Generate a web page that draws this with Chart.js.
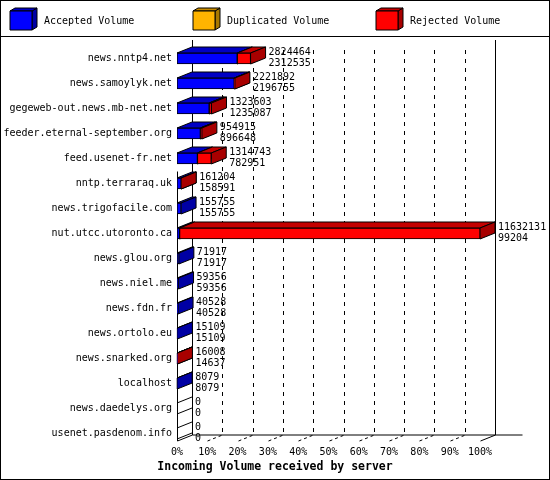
<!DOCTYPE html>
<html>
<head>
<meta charset="utf-8">
<script src="https://cdn.jsdelivr.net/npm/chart.js@4.4.1/dist/chart.umd.min.js"></script>
<style>
    html, body { margin: 0; padding: 0; background: #fff; }
    canvas { display: block; }
</style>
</head>
<body>
<canvas id="chart" width="550" height="480"></canvas>
<script>
// Data
const servers = [
    'news.nntp4.net', 'news.samoylyk.net', 'gegeweb-out.news.mb-net.net',
    'feeder.eternal-september.org', 'feed.usenet-fr.net', 'nntp.terraraq.uk',
    'news.trigofacile.com', 'nut.utcc.utoronto.ca', 'news.glou.org',
    'news.niel.me', 'news.fdn.fr', 'news.ortolo.eu', 'news.snarked.org',
    'localhost', 'news.daedelys.org', 'usenet.pasdenom.info'
];
const totalVolume = [2824464, 2221892, 1323603, 954915, 1314743, 161204, 155755, 11632131, 71917, 59356, 40528, 15109, 16008, 8079, 0, 0];
const acceptedVolume = [2312535, 2196755, 1235087, 896648, 782951, 158591, 155755, 99204, 71917, 59356, 40528, 15109, 14637, 8079, 0, 0];
const duplicatedVolume = [0, 0, 0, 0, 0, 0, 0, 0, 0, 0, 0, 0, 0, 0, 0, 0];
const rejectedVolume = [511929, 25137, 88516, 58267, 531792, 2613, 0, 11532927, 0, 0, 0, 0, 1371, 0, 0, 0];
const percentTicks = [0, 10, 20, 30, 40, 50, 60, 70, 80, 90, 100];
const percentLabels = ['0%', '10%', '20%', '30%', '40%', '50%', '60%', '70%', '80%', '90%', '100%'];

const maxVolume = Math.max(...totalVolume);
const FONT = 'DejaVu Sans Mono';
const DX = 15, DY = 6;

function poly(ctx, pts, fill) {
    ctx.beginPath();
    ctx.moveTo(pts[0][0], pts[0][1]);
    for (let i = 1; i < pts.length; i++) ctx.lineTo(pts[i][0], pts[i][1]);
    ctx.closePath();
    ctx.fillStyle = fill;
    ctx.fill();
    ctx.stroke();
}

function line(ctx, x1, y1, x2, y2) {
    ctx.beginPath();
    ctx.moveTo(x1, y1);
    ctx.lineTo(x2, y2);
    ctx.stroke();
}

// back plane, floor ticks and the 3D top/side faces of the bars
const depthPlugin = {
    id: 'depth',
    beforeDatasetsDraw(chart) {
        const ctx = chart.ctx;
        const area = chart.chartArea;
        const xs = chart.scales.x;
        const ys = chart.scales.y;
        const floorY = area.bottom - 5;
        const backTop = area.top - 6;
        const left = Math.round(xs.getPixelForValue(0)) + 0.5;
        const right = Math.round(xs.getPixelForValue(maxVolume)) + 0.5;

        ctx.save();
        ctx.strokeStyle = '#000';
        ctx.lineWidth = 1;

        // walls
        line(ctx, left + DX, backTop, left + DX, floorY - DY);
        line(ctx, right + DX, backTop, right + DX, floorY - DY);
        line(ctx, left + DX, floorY - DY, right + DX + 27, floorY - DY);
        line(ctx, left, ys.getPixelForValue(5) - 12, left, floorY);

        // grid on the back wall and ticks on the floor
        xs.ticks.forEach((t, i) => {
            const x = Math.round(xs.getPixelForValue(t.value)) + 0.5;
            if (i > 0 && i < xs.ticks.length - 1) {
                ctx.setLineDash([4, 5]);
                line(ctx, x + DX, area.top + 4, x + DX, floorY - DY);
                ctx.setLineDash([3, 3]);
            } else {
                ctx.setLineDash([]);
            }
            line(ctx, x, floorY, x + DX, floorY - DY);
            ctx.setLineDash([]);
        });

        // 3D faces, drawn dataset by dataset
        chart.data.datasets.forEach((ds, di) => {
            const meta = chart.getDatasetMeta(di);
            meta.data.forEach((el, i) => {
                const p = el.getProps(['x', 'y', 'base', 'height'], true);
                const l = Math.min(p.x, p.base), r = Math.max(p.x, p.base);
                const top = p.y - p.height / 2, bottom = p.y + p.height / 2;
                if (ds.data[i] === 0) {
                    if (di === 0 && totalVolume[i] === 0) {
                        line(ctx, l, top, l + DX, top - DY);
                        line(ctx, l, bottom, l + DX, bottom - DY);
                    }
                    return;
                }
                poly(ctx, [[l, top], [r, top], [r + DX, top - DY], [l + DX, top - DY]], ds.topColor);
                poly(ctx, [[r, top], [r + DX, top - DY], [r + DX, bottom - DY], [r, bottom]], ds.sideColor);
            });
        });
        ctx.restore();
    },
    afterDatasetsDraw(chart) {
        const ctx = chart.ctx;
        const xs = chart.scales.x;
        const ys = chart.scales.y;
        ctx.save();
        ctx.fillStyle = '#000';
        ctx.font = '10px "' + FONT + '"';
        ctx.textBaseline = 'middle';
        ctx.textAlign = 'left';
        servers.forEach((s, i) => {
            const x = xs.getPixelForValue(totalVolume[i]) + DX + 3;
            const y = ys.getPixelForValue(i);
            ctx.fillText(String(totalVolume[i]), x, y - 6);
            ctx.fillText(String(acceptedVolume[i]), x, y + 5);
        });
        ctx.restore();
    },
    afterDraw(chart) {
        const ctx = chart.ctx;
        ctx.save();
        ctx.strokeStyle = '#000';
        ctx.lineWidth = 1;
        ctx.strokeRect(0.5, 0.5, 549, 479);
        line(ctx, 0, 36.5, 550, 36.5);

        // legend with little cubes
        chart.data.datasets.forEach((ds, i) => {
            const x0 = 10 + i * 183;
            poly(ctx, [[x0 + 22, 11], [x0 + 27, 8], [x0 + 27, 27], [x0 + 22, 30]], ds.sideColor);
            poly(ctx, [[x0, 11], [x0 + 5, 8], [x0 + 27, 8], [x0 + 22, 11]], ds.topColor);
            poly(ctx, [[x0, 11], [x0 + 22, 11], [x0 + 22, 30], [x0, 30]], ds.backgroundColor);
            ctx.fillStyle = '#000';
            ctx.font = '10px "' + FONT + '"';
            ctx.textBaseline = 'middle';
            ctx.textAlign = 'left';
            ctx.fillText(ds.label, x0 + 34, 21);
        });

        // axis title
        ctx.font = 'bold 11.5px "' + FONT + '"';
        ctx.textAlign = 'center';
        ctx.fillText('Incoming Volume received by server', 275, 467);
        ctx.restore();
    }
};

const ctx = document.getElementById('chart').getContext('2d');
new Chart(ctx, {
    type: 'bar',
    data: {
        labels: servers,
        datasets: [
            {
                label: 'Accepted Volume',
                data: acceptedVolume,
                backgroundColor: '#0000ff',
                topColor: '#0000c4',
                sideColor: '#0000a4'
            },
            {
                label: 'Duplicated Volume',
                data: duplicatedVolume,
                backgroundColor: '#ffb400',
                topColor: '#c88c00',
                sideColor: '#a87800'
            },
            {
                label: 'Rejected Volume',
                data: rejectedVolume,
                backgroundColor: '#ff0000',
                topColor: '#c40000',
                sideColor: '#a80000'
            }
        ]
    },
    options: {
        indexAxis: 'y',
        responsive: false,
        animation: false,
        devicePixelRatio: 1,
        layout: { padding: { top: 46, right: 70, bottom: 0, left: 0 } },
        datasets: {
            bar: { barThickness: 11, borderColor: '#000', borderWidth: 1, borderSkipped: false }
        },
        plugins: {
            legend: { display: false },
            tooltip: { enabled: false }
        },
        scales: {
            x: {
                type: 'linear',
                stacked: true,
                min: 0,
                max: maxVolume,
                grid: { display: false, drawTicks: false },
                border: { display: false },
                afterBuildTicks: s => { s.ticks = percentTicks.map(p => ({ value: p / 100 * maxVolume })); },
                afterFit: s => { s.height = 34; },
                ticks: {
                    autoSkip: false,
                    maxRotation: 0,
                    padding: 0,
                    color: '#000',
                    font: { family: FONT, size: 10 },
                    callback: (v, i) => percentLabels[i]
                }
            },
            y: {
                type: 'category',
                stacked: true,
                grid: { display: false, drawTicks: false },
                border: { display: false },
                afterFit: s => { s.width = 177; },
                ticks: {
                    autoSkip: false,
                    padding: 5,
                    color: '#000',
                    font: { family: FONT, size: 10 }
                }
            }
        }
    },
    plugins: [depthPlugin]
});
</script>
</body>
</html>
